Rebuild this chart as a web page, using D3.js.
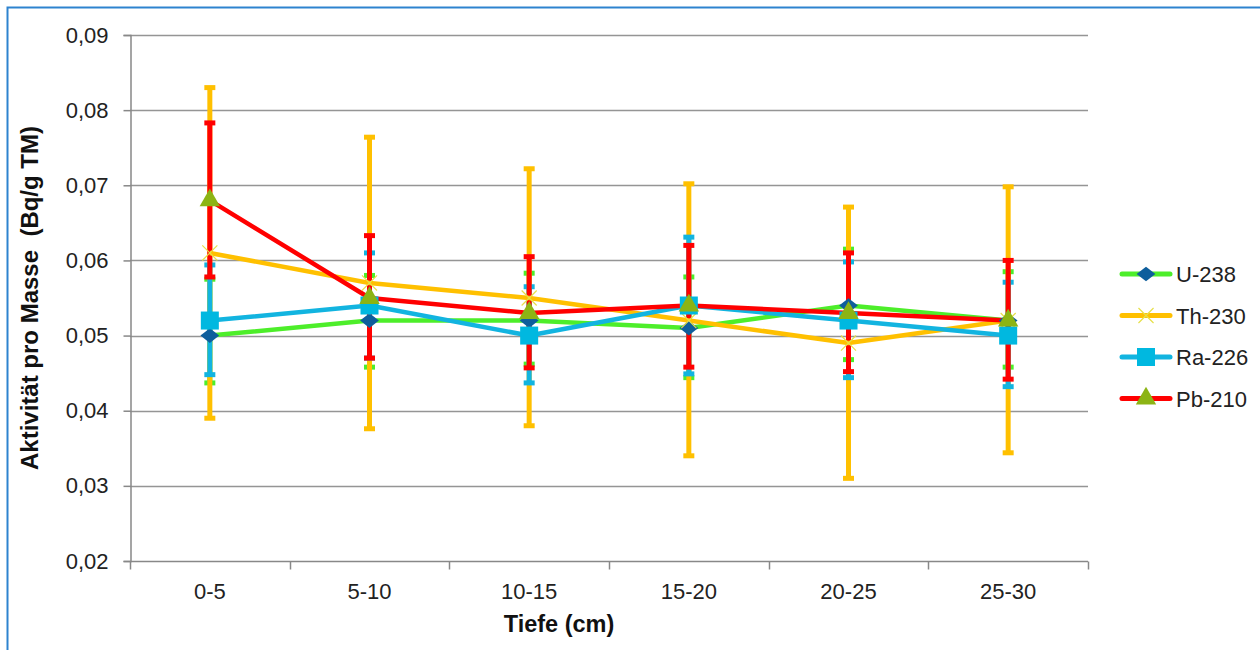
<!DOCTYPE html>
<html>
<head>
<meta charset="utf-8">
<script src="https://cdn.jsdelivr.net/npm/d3@7"></script>
<style>
  body { margin: 0; background: #fff; }
  text { font-family: Arial, "Liberation Sans", sans-serif; }
</style>
</head>
<body>
<div id="chart"></div>
<script>
// depth categories
const categories = ["0-5", "5-10", "10-15", "15-20", "20-25", "25-30"];
const yTicks = [0.02, 0.03, 0.04, 0.05, 0.06, 0.07, 0.08, 0.09];

// mean values per nuclide
const u238 = [0.050, 0.052, 0.052, 0.051, 0.054, 0.052];
const th230 = [0.061, 0.057, 0.055, 0.052, 0.049, 0.052];
const ra226 = [0.052, 0.054, 0.050, 0.054, 0.052, 0.050];
const pb210 = [0.068, 0.055, 0.053, 0.054, 0.053, 0.052];

// error bar ends (low / high)
const u238Low = [0.0437, 0.0458, 0.0462, 0.0444, 0.0468, 0.0458];
const u238High = [0.0575, 0.0580, 0.0583, 0.0578, 0.0615, 0.0585];
const th230Low = [0.039, 0.0376, 0.038, 0.034, 0.031, 0.0344];
const th230High = [0.083, 0.0764, 0.0722, 0.0702, 0.0671, 0.0698];
const ra226Low = [0.0448, 0.047, 0.0437, 0.0449, 0.0444, 0.0432];
const ra226High = [0.0594, 0.061, 0.0565, 0.0631, 0.0598, 0.0571];
const pb210Low = [0.0578, 0.047, 0.0457, 0.0458, 0.0452, 0.0442];
const pb210High = [0.0783, 0.0633, 0.0605, 0.062, 0.061, 0.060];

const series = [
  { name: "U-238", values: u238, low: u238Low, high: u238High, color: "#4DEE2A", marker: "diamond", mcolor: "#0E5E9C" },
  { name: "Th-230", values: th230, low: th230Low, high: th230High, color: "#FFC000", marker: "x", mcolor: "#E6E04A" },
  { name: "Ra-226", values: ra226, low: ra226Low, high: ra226High, color: "#12B4E0", marker: "square", mcolor: "#00B8E0" },
  { name: "Pb-210", values: pb210, low: pb210Low, high: pb210High, color: "#FF0000", marker: "triangle", mcolor: "#8CB414" }
];

const width = 1260, height = 650;
const margin = { top: 35, right: 172, bottom: 89, left: 130 };

const svg = d3.select("#chart").append("svg")
  .attr("width", width)
  .attr("height", height);

// outer frame
svg.append("rect")
  .attr("x", 7.5).attr("y", 7.5)
  .attr("width", width + 20).attr("height", height + 20)
  .attr("fill", "none")
  .attr("stroke", "#2E83CF")
  .attr("stroke-width", 2);

const x = d3.scaleBand()
  .domain(categories)
  .range([margin.left, width - margin.right]);

const y = d3.scaleLinear()
  .domain([0.02, 0.09])
  .range([height - margin.bottom, margin.top]);

const fmt = d => d3.format(".2f")(d).replace(".", ",");

// gridlines
svg.append("g")
  .selectAll("line")
  .data(yTicks.slice(1))
  .join("line")
  .attr("x1", margin.left).attr("x2", width - margin.right)
  .attr("y1", d => Math.round(y(d)) + 0.5).attr("y2", d => Math.round(y(d)) + 0.5)
  .attr("stroke", "#959595")
  .attr("stroke-width", 1.5);

// y axis
const yAxis = svg.append("g")
  .attr("transform", `translate(${margin.left + 0.5},0)`)
  .call(d3.axisLeft(y).tickValues(yTicks).tickFormat(fmt).tickSize(7).tickPadding(15));
yAxis.selectAll("text")
  .attr("font-size", 22)
  .attr("font-family", "Arial, 'Liberation Sans', sans-serif")
  .attr("fill", "#222");
yAxis.select(".domain").attr("stroke", "#888").attr("stroke-width", 1.5);
yAxis.selectAll(".tick line").attr("stroke", "#888").attr("stroke-width", 1.5);

// x axis with ticks on band boundaries
const xAxisG = svg.append("g")
  .attr("transform", `translate(0,${Math.round(y(0.02)) + 0.5})`);
xAxisG.append("line")
  .attr("x1", margin.left).attr("x2", width - margin.right)
  .attr("stroke", "#888").attr("stroke-width", 1.5);
xAxisG.selectAll(".tk")
  .data(categories.concat(["end"]))
  .join("line")
  .attr("class", "tk")
  .attr("x1", (d, i) => Math.round(margin.left + i * x.bandwidth()) + 0.5)
  .attr("x2", (d, i) => Math.round(margin.left + i * x.bandwidth()) + 0.5)
  .attr("y1", 0).attr("y2", 8)
  .attr("stroke", "#888").attr("stroke-width", 1.5);
xAxisG.selectAll(".lbl")
  .data(categories)
  .join("text")
  .attr("class", "lbl")
  .attr("x", d => x(d) + x.bandwidth() / 2)
  .attr("y", 37)
  .attr("text-anchor", "middle")
  .attr("font-size", 22)
  .attr("fill", "#222")
  .text(d => d);

// axis titles
svg.append("text")
  .attr("x", 559)
  .attr("y", 632)
  .attr("text-anchor", "middle")
  .attr("font-size", 23.5)
  .attr("font-weight", "bold")
  .attr("fill", "#111")
  .text("Tiefe (cm)");

svg.append("text")
  .attr("transform", `translate(38,${y(0.055)}) rotate(-90)`)
  .attr("text-anchor", "middle")
  .attr("font-size", 24)
  .attr("font-weight", "bold")
  .attr("fill", "#111")
  .style("white-space", "pre")
  .text("Aktivität pro Masse  (Bq/g TM)");

const cx = c => x(c) + x.bandwidth() / 2;

// error bars
series.forEach(s => {
  const g = svg.append("g");
  categories.forEach((c, i) => {
    g.append("line")
      .attr("x1", cx(c)).attr("x2", cx(c))
      .attr("y1", y(s.low[i])).attr("y2", y(s.high[i]))
      .attr("stroke", s.color).attr("stroke-width", 5);
    [s.low[i], s.high[i]].forEach(v => {
      g.append("line")
        .attr("x1", cx(c) - 5.5).attr("x2", cx(c) + 5.5)
        .attr("y1", y(v)).attr("y2", y(v))
        .attr("stroke", s.color).attr("stroke-width", 5);
    });
  });
});

// lines
const line = d3.line()
  .x((d, i) => cx(categories[i]))
  .y(d => y(d));

series.forEach(s => {
  svg.append("path")
    .datum(s.values)
    .attr("d", line)
    .attr("fill", "none")
    .attr("stroke", s.color)
    .attr("stroke-width", 4.5)
    .attr("stroke-linejoin", "round");
});

function drawMarker(g, s, px, py) {
  if (s.marker === "diamond") {
    g.append("path")
      .attr("d", d3.symbol(d3.symbolDiamond2, 170)())
      .attr("transform", `translate(${px},${py}) scale(1.15,0.9)`)
      .attr("fill", s.mcolor);
  } else if (s.marker === "x") {
    g.append("path")
      .attr("d", d3.symbol(d3.symbolTimes, 150)())
      .attr("transform", `translate(${px},${py})`)
      .attr("fill", "none")
      .attr("stroke", s.mcolor)
      .attr("stroke-width", 1.2);
  } else if (s.marker === "square") {
    g.append("rect")
      .attr("x", px - 9).attr("y", py - 9)
      .attr("width", 18).attr("height", 18)
      .attr("fill", s.mcolor);
  } else {
    g.append("path")
      .attr("d", d3.symbol(d3.symbolTriangle, 180)())
      .attr("transform", `translate(${px},${py})`)
      .attr("fill", s.mcolor);
  }
}

// markers
series.forEach(s => {
  const g = svg.append("g");
  s.values.forEach((v, i) => drawMarker(g, s, cx(categories[i]), y(v)));
});

// legend
const legend = svg.append("g").attr("transform", "translate(1122,274)");
series.forEach((s, i) => {
  const row = legend.append("g").attr("transform", `translate(0,${i * 41.5})`);
  row.append("line")
    .attr("x1", 0).attr("x2", 48)
    .attr("stroke", s.color).attr("stroke-width", 5)
    .attr("stroke-linecap", "round");
  drawMarker(row, s, 24, 0);
  row.append("text")
    .attr("x", 54).attr("y", 8)
    .attr("font-size", 22)
    .attr("fill", "#222")
    .text(s.name);
});
</script>
</body>
</html>
